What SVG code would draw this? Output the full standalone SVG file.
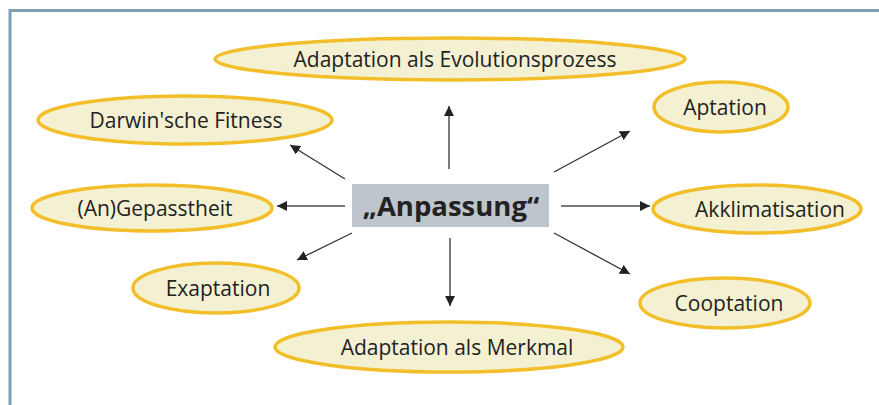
<svg xmlns="http://www.w3.org/2000/svg" width="879" height="405" viewBox="0 0 879 405">
<defs>
<style>
.n ellipse{fill:#f4f1d2;stroke:#f2be2a;stroke-width:3.5}
.n text{font-family:"Open Sans","Noto Sans",sans-serif;font-size:21px;fill:#222;text-anchor:middle;dominant-baseline:central}
.c line{stroke:#333;stroke-width:1.3;marker-end:url(#ah)}
.c line.g{stroke:#7a7a7a;stroke-width:2}
</style>
<marker id="ah" viewBox="0 0 10 10" refX="10" refY="5" markerWidth="10" markerHeight="10" markerUnits="userSpaceOnUse" orient="auto">
<path d="M0,0 L10,5 L0,10 Z" fill="#222"/>
</marker>
</defs>
<rect x="0" y="0" width="879" height="405" fill="#fff"/>
<path d="M10,410 V10.5 H890" fill="none" stroke="#7d9fb6" stroke-width="3"/>
<g class="c">
<line class="g" x1="449" y1="169" x2="449" y2="106"/>
<line class="g" x1="450" y1="238" x2="450" y2="306"/>
<line class="g" x1="345" y1="206" x2="277" y2="206"/>
<line class="g" x1="561" y1="206" x2="650" y2="206"/>
<line x1="345" y1="179" x2="290" y2="145"/>
<line x1="352" y1="233" x2="297" y2="260"/>
<line x1="554" y1="172" x2="630" y2="131"/>
<line x1="554" y1="233" x2="630" y2="274"/>
</g>
<g id="center">
<rect x="352" y="184" width="197" height="43" fill="#bfc5cd"/>
<text x="451" y="205" font-family="'Open Sans','Noto Sans',sans-serif" font-size="27.5" font-weight="bold" fill="#222" text-anchor="middle" dominant-baseline="central">„Anpassung“</text>
</g>
<g id="n1" class="n"><ellipse cx="450" cy="59" rx="235" ry="21"/><text x="455" y="59">Adaptation als Evolutionsprozess</text></g>
<g id="n2" class="n"><ellipse cx="185" cy="120" rx="147" ry="24"/><text x="186" y="120">Darwin'sche Fitness</text></g>
<g id="n3" class="n"><ellipse cx="721" cy="107" rx="67" ry="25"/><text x="725" y="107">Aptation</text></g>
<g id="n4" class="n"><ellipse cx="152" cy="208" rx="120" ry="23"/><text x="155" y="208">(An)Gepasstheit</text></g>
<g id="n5" class="n"><ellipse cx="757" cy="209" rx="104" ry="24"/><text x="770" y="209">Akklimatisation</text></g>
<g id="n6" class="n"><ellipse cx="216" cy="288" rx="83" ry="25"/><text x="218" y="288">Exaptation</text></g>
<g id="n7" class="n"><ellipse cx="725" cy="303" rx="85" ry="25"/><text x="729" y="303">Cooptation</text></g>
<g id="n8" class="n"><ellipse cx="449" cy="347" rx="174" ry="25"/><text x="457" y="347">Adaptation als Merkmal</text></g>
</svg>
